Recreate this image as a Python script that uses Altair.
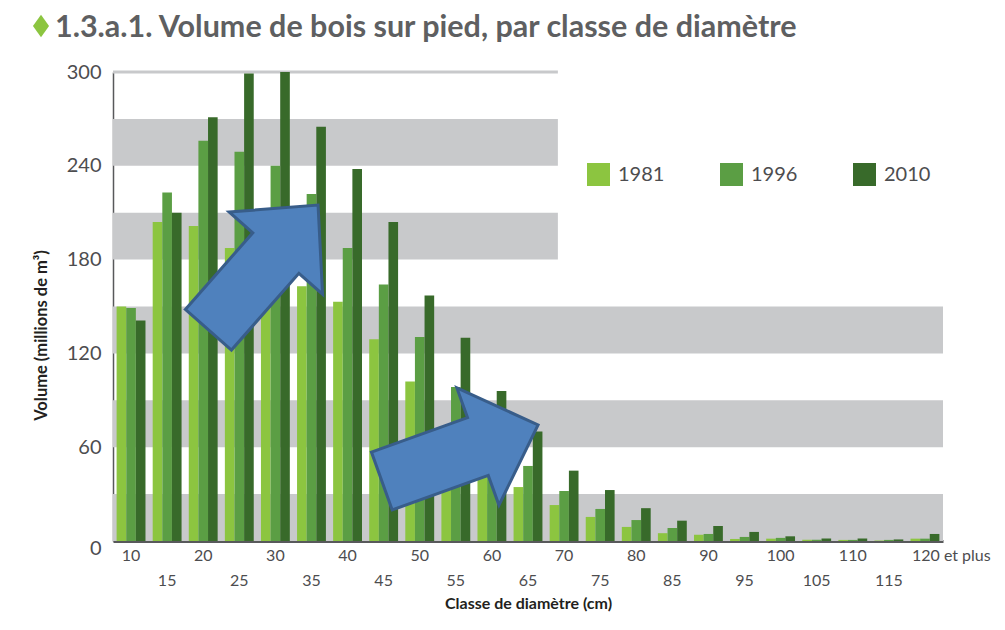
import altair as alt
import pandas as pd

# ---- data ----
categories = ["10", "15", "20", "25", "30", "35", "40", "45", "50", "55", "60", "65",
              "70", "75", "80", "85", "90", "95", "100", "105", "110", "115", "120 et plus"]
years = ["1981", "1996", "2010"]
v1981 = [150, 204, 201.5, 187.5, 172, 163, 153, 129, 102, 73, 50, 34.5,
         23, 15.4, 9, 5, 4, 1.3, 1.5, 0.8, 0.7, 0.3, 1.5]
v1996 = [149, 223, 256, 249, 240, 222, 187.5, 164, 130.5, 98.5, 68, 48,
         32, 20.5, 13.4, 8.3, 4.5, 2.6, 2, 0.8, 0.7, 0.7, 1.5]
v2010 = [141, 210, 271, 299, 300, 265, 238, 204, 157, 130, 96, 70,
         45, 32.6, 21, 13, 9.6, 5.8, 3, 1.6, 1.6, 1, 4.5]
colors = ["#8cc540", "#5b9e44", "#386a2a"]

rows = []
for yr, vals in zip(years, [v1981, v1996, v2010]):
    for c, v in zip(categories, vals):
        rows.append({"classe": c, "annee": yr, "volume": v})
df = pd.DataFrame(rows)

# background bands (alternate gray stripes)
band_lo = [0, 60, 120, 180, 240]
band_hi = [30, 90, 150, 210, 270]
band_end = [1, 1, 1, 0.536, 0.536]
bands = pd.DataFrame({"lo": band_lo, "hi": band_hi, "x0": [0] * 5, "x1": band_end})
top_line = pd.DataFrame({"v": [300], "x0": [0], "x1": [0.536]})

# annotation arrows
arrows = pd.DataFrame({"fx": [0.181, 0.418], "v": [175, 56.3], "ang": [311.35, 340.25]})

FONT = "Lato"
TXT = "#4d4d4f"
GRAY = "#c8c9cb"
frac = alt.Scale(domain=[0, 1], nice=False, zero=False)
yscale = alt.Scale(domain=[0, 300], nice=False)

yaxis = alt.Axis(
    title="Volume (millions de m³)",
    values=[0, 60, 120, 180, 240, 300],
    ticks=False,
    grid=False,
    labelFontSize=20,
    labelFont=FONT,
    labelColor=TXT,
    labelPadding=12,
    labelOffset={"condition": {"test": "datum.value == 0", "value": 7}, "value": 0},
    domainColor="#58595b",
    domainWidth=1.5,
    titleFont=FONT,
    titleFontSize=16.5,
    titleFontWeight="bold",
    titleColor="#231f20",
    titleX=-72,
    titleY=263,
    titleAngle=270,
    titleAlign="center",
    titleBaseline="middle",
)

band_layer = alt.Chart(bands).mark_rect(color=GRAY).encode(
    x=alt.X("x0:Q", scale=frac, axis=None),
    x2="x1:Q",
    y=alt.Y("lo:Q", scale=yscale, axis=yaxis),
    y2="hi:Q",
)

rule_layer = alt.Chart(top_line).mark_rule(color=GRAY, strokeWidth=3).encode(
    x=alt.X("x0:Q", scale=frac, axis=None),
    x2="x1:Q",
    y=alt.Y("v:Q", scale=yscale, axis=yaxis),
)

bars = alt.Chart(df).mark_bar().encode(
    x=alt.X(
        "classe:N",
        sort=categories,
        scale=alt.Scale(paddingInner=0.2, paddingOuter=0.1),
        axis=alt.Axis(
            title="Classe de diamètre (cm)",
            labelAngle=0,
            labelExpr="parseInt(datum.value) % 10 == 5 ? ['', datum.label] : datum.label",
            labelLineHeight=25,
            labelFontSize=16,
            labelFont=FONT,
            labelColor=TXT,
            labelPadding=6,
            labelBaseline="top",
            labelOverlap=False,
            labelAlign={"condition": {"test": "datum.value == '120 et plus'", "value": "left"}, "value": "center"},
            labelOffset={"condition": {"test": "datum.value == '120 et plus'", "value": -13}, "value": 0},
            ticks=False,
            domainColor="#58595b",
            domainWidth=3,
            titleFont=FONT,
            titleFontSize=16,
            titleFontWeight="bold",
            titleColor="#231f20",
            titlePadding=7,
        ),
    ),
    xOffset=alt.XOffset("annee:N", sort=years, scale=alt.Scale(paddingInner=0, paddingOuter=0)),
    y=alt.Y("volume:Q", scale=yscale, axis=yaxis),
    color=alt.Color(
        "annee:N",
        sort=years,
        scale=alt.Scale(domain=years, range=colors),
        legend=alt.Legend(
            title=None,
            orient="none",
            legendX=474,
            legendY=91,
            direction="horizontal",
            symbolType="square",
            symbolSize=529,
            symbolStrokeWidth=0,
            labelFontSize=20,
            labelFont=FONT,
            labelColor=TXT,
            labelOffset=8,
            columnPadding=55,
            padding=0,
        ),
    ),
)

arrow_path = "M-1,-0.37L0.23,-0.37L0.23,-0.75L1,0L0.23,0.75L0.23,0.37L-1,0.37Z"
arrow_layer = alt.Chart(arrows).mark_point(
    shape=arrow_path, size=27556, filled=True, fill="#4f81bd", stroke="#385d8a",
    strokeWidth=3, opacity=1, fillOpacity=1, strokeOpacity=1,
).encode(
    x=alt.X("fx:Q", scale=frac, axis=None),
    y=alt.Y("v:Q", scale=yscale, axis=yaxis),
    angle=alt.Angle("ang:Q", scale=None),
)

title_text = "1.3.a.1. Volume de bois sur pied, par classe de diamètre"
title_layer = alt.Chart(pd.DataFrame({"t": [title_text]})).mark_text(
    align="left", baseline="alphabetic", fontSize=30.5, fontWeight="bold",
    font="Lato", color="#5e5f61",
).encode(x=alt.value(-58), y=alt.value(-35), text="t:N")

diamond_layer = alt.Chart(pd.DataFrame({"t": ["d"]})).mark_point(
    shape="M0,-1L0.72,0L0,1L-0.72,0Z", size=500, filled=True, fill="#8cc540",
    opacity=1, strokeWidth=0,
).encode(x=alt.value(-72), y=alt.value(-46))

chart = alt.layer(
    band_layer, rule_layer, bars, arrow_layer, title_layer, diamond_layer
).resolve_scale(x="independent").properties(
    width=830,
    height=469,
    padding={"left": 105, "top": 64, "right": 54, "bottom": 74},
    autosize=alt.AutoSizeParams(type="none"),
    background="white",
).configure_view(stroke=None)

chart.save("out.html", embed_options={"renderer": "svg", "actions": False})
